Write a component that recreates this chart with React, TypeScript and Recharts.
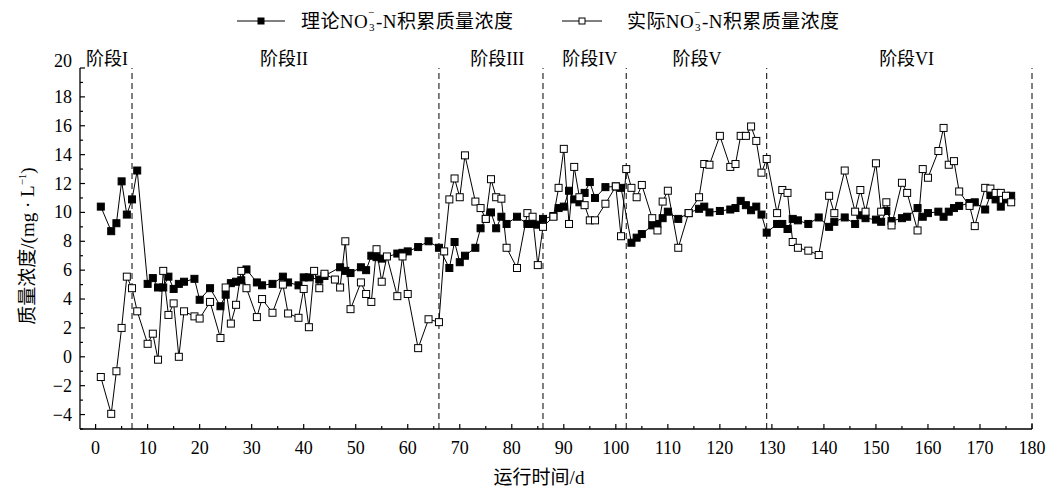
import React from "react";
import { LineChart, Line, XAxis, YAxis, ReferenceLine, ReferenceDot } from "recharts";

const FONT = "'Liberation Serif', 'Noto Sans CJK SC', serif";

// theoretical NO3--N accumulation (filled squares): [day, mg/L]
const theory: [number, number][] = [
  [1, 10.4], [3, 8.7], [4, 9.25], [5, 12.15], [6, 9.85], [7, 10.9], [8, 12.9],
  [10, 5.05], [11, 5.45], [12, 4.8], [13, 4.8], [14, 5.55], [15, 4.7], [16, 5.05],
  [17, 5.2], [19, 5.4], [20, 3.95], [22, 4.75], [24, 3.5], [25, 4.3], [26, 5.1],
  [27, 5.2], [28, 5.3], [29, 6.05], [31, 5.15], [32, 4.95], [34, 5.05], [36, 5.55],
  [37, 5.15], [39, 4.95], [40, 5.5], [41, 5.5], [43, 5.35], [44, 5.6], [47, 6.2],
  [48, 5.95], [49, 5.8], [51, 6.2], [52, 6.0], [53, 7.0], [54, 6.9], [55, 6.8],
  [58, 7.15], [59, 7.2], [60, 7.3], [62, 7.6], [64, 8.0], [66, 7.55], [68, 6.15],
  [69, 7.95], [70, 6.55], [71, 7.0], [73, 7.55], [74, 8.9], [75, 9.55], [76, 10.0],
  [77, 8.9], [78, 9.7], [79, 9.2], [81, 9.7], [83, 9.2], [84, 9.2], [85, 9.15],
  [86, 9.55], [88, 9.75], [89, 10.3], [90, 10.4], [91, 11.5], [92, 10.9], [93, 10.7],
  [94, 11.35], [95, 12.1], [96, 11.0], [98, 11.75], [100, 11.8], [101, 11.7],
  [103, 7.9], [104, 8.25], [105, 8.5], [107, 9.1], [108, 9.2], [109, 9.6], [110, 10.05],
  [112, 9.55], [114, 9.95], [116, 10.25], [117, 10.4], [118, 10.0], [120, 10.1],
  [122, 10.2], [123, 10.3], [124, 10.8], [125, 10.5], [126, 10.15], [127, 10.4],
  [128, 9.85], [129, 8.6], [131, 9.2], [132, 9.2], [133, 8.85], [134, 9.55], [135, 9.45],
  [137, 9.2], [139, 9.65], [141, 9.0], [142, 9.35], [144, 9.65], [146, 9.2], [147, 9.8],
  [148, 9.6], [150, 9.5], [151, 9.35], [152, 10.1], [153, 9.4], [155, 9.6], [156, 9.7],
  [158, 10.3], [159, 9.7], [160, 9.95], [162, 10.05], [163, 9.7], [164, 10.05],
  [165, 10.3], [166, 10.45], [168, 10.65], [169, 10.7], [171, 10.2], [172, 11.2],
  [173, 10.9], [174, 10.4], [175, 10.9], [176, 11.15],
];

// measured NO3--N accumulation (open squares): [day, mg/L]
const actual: [number, number][] = [
  [1, -1.4], [3, -3.95], [4, -1.0], [5, 2.0], [6, 5.55], [7, 4.75], [8, 3.15],
  [10, 0.9], [11, 1.6], [12, -0.2], [13, 5.95], [14, 2.9], [15, 3.7], [16, 0.0],
  [17, 3.15], [19, 2.8], [20, 2.65], [22, 3.8], [24, 1.3], [25, 4.8], [26, 2.3],
  [27, 3.6], [28, 5.95], [29, 4.75], [31, 2.75], [32, 4.0], [34, 3.05], [36, 5.0],
  [37, 3.0], [39, 2.7], [40, 4.7], [41, 2.05], [42, 5.95], [43, 4.75], [44, 5.75],
  [46, 5.35], [47, 4.8], [48, 8.0], [49, 3.3], [51, 5.15], [52, 4.35], [53, 3.8],
  [54, 7.45], [55, 5.2], [56, 6.95], [58, 4.2], [59, 6.95], [60, 4.35], [62, 0.6],
  [64, 2.6], [66, 2.4], [67, 7.3], [68, 10.9], [69, 12.35], [70, 11.05], [71, 13.95],
  [73, 10.75], [74, 10.3], [75, 9.55], [76, 12.3], [77, 11.05], [78, 10.95], [79, 7.55],
  [81, 6.15], [83, 9.95], [84, 9.7], [85, 6.35], [86, 9.0], [88, 9.7], [89, 11.7],
  [90, 14.4], [91, 9.2], [92, 13.15], [93, 11.05], [94, 10.5], [95, 9.45], [96, 9.45],
  [98, 10.6], [100, 11.8], [101, 8.35], [102, 13.0], [103, 11.7], [104, 11.05],
  [105, 11.9], [107, 9.6], [108, 8.75], [109, 10.75], [110, 11.5], [112, 7.55],
  [114, 9.95], [116, 11.05], [117, 13.35], [118, 13.3], [120, 15.3], [122, 13.15],
  [123, 13.35], [124, 15.3], [125, 15.3], [126, 15.95], [127, 14.95], [128, 12.75],
  [129, 13.7], [131, 9.95], [132, 11.55], [133, 11.35], [134, 7.95], [135, 7.55],
  [137, 7.35], [139, 7.05], [141, 11.15], [142, 9.95], [144, 12.9], [146, 10.05],
  [147, 11.55], [148, 10.05], [150, 13.4], [151, 10.05], [152, 10.7], [153, 9.1],
  [155, 12.05], [156, 11.35], [158, 8.75], [159, 13.0], [160, 12.4], [162, 14.25],
  [163, 15.85], [164, 13.3], [165, 13.55], [166, 11.45], [168, 10.45], [169, 9.05],
  [171, 11.7], [172, 11.65], [173, 11.35], [174, 11.35], [175, 11.15], [176, 10.7],
];

const stageBounds = [7, 66, 86, 102, 129, 180];
const stageNames = ["阶段I", "阶段II", "阶段III", "阶段IV", "阶段V", "阶段VI"];
const stageCenters = [2.2, 36.2, 77.2, 95, 115.6, 155.9];

const xTicks = Array.from({ length: 37 }, (_, i) => i * 5);
const yTicks = Array.from({ length: 26 }, (_, i) => i - 5);

const theoryData = theory.map(([day, v]) => ({ day, v }));
const actualData = actual.map(([day, v]) => ({ day, v }));

const XTick = (props: any) => {
  const { x, y, payload } = props;
  const v = payload.value;
  const major = v % 10 === 0;
  return (
    <g>
      <line x1={x} x2={x} y1={y} y2={y - (major ? 5 : 3)} stroke="#000" strokeWidth={1.2} />
      {major && (
        <text x={x} y={y + 25} textAnchor="middle" fontSize={18} fontFamily={FONT} fill="#000">
          {v}
        </text>
      )}
    </g>
  );
};

const YTick = (props: any) => {
  const { x, y, payload } = props;
  const v = payload.value;
  const major = v % 2 === 0;
  return (
    <g>
      <line x1={x} x2={x + (major ? 5 : 3)} y1={y} y2={y} stroke="#000" strokeWidth={1.2} />
      {major && (
        <text x={x - 8} y={y + 6 - (v === 20 ? 7 : 0)} textAnchor="end" fontSize={18} fontFamily={FONT} fill="#000">
          {v < 0 ? `−${-v}` : v}
        </text>
      )}
    </g>
  );
};

const square = (filled: boolean) => (props: any) => {
  const { cx, cy, index } = props;
  if (cx == null || cy == null) return <g key={index} />;
  return (
    <rect
      key={index}
      x={cx - 3.5}
      y={cy - 3.5}
      width={7}
      height={7}
      fill={filled ? "#000" : "#fff"}
      stroke="#000"
      strokeWidth={1}
    />
  );
};

const NO3 = () => (
  <>
    NO
    <span style={{ display: "inline-block", position: "relative", width: 8, height: "1em" }}>
      <span style={{ position: "absolute", left: 0, top: -2, fontSize: 11, lineHeight: 1 }}>−</span>
      <span style={{ position: "absolute", left: 1, top: 13, fontSize: 11, lineHeight: 1 }}>3</span>
    </span>
    -N
  </>
);

const legendText: React.CSSProperties = { letterSpacing: 0.4 };

export default function App() {
  return (
    <div
      style={{
        position: "absolute",
        left: 0,
        top: 0,
        width: 1053,
        height: 490,
        background: "#fff",
        fontFamily: FONT,
        color: "#000",
      }}
    >
      <LineChart width={1053} height={490} margin={{ top: 68, right: 21, bottom: 0, left: 0 }}>
        <XAxis
          type="number"
          dataKey="day"
          domain={[-3, 180]}
          ticks={xTicks}
          interval={0}
          tickSize={0}
          tickMargin={0}
          tickLine={false}
          tick={<XTick />}
          height={61}
          axisLine={{ stroke: "#000", strokeWidth: 1.3 }}
          allowDuplicatedCategory={false}
          label={{
            value: "运行时间/d",
            position: "insideBottom",
            offset: 6,
            dx: -17,
            fontSize: 19,
            fontFamily: FONT,
            fill: "#000",
          }}
        />
        <YAxis
          type="number"
          domain={[-5, 20]}
          ticks={yTicks}
          interval={0}
          width={80}
          tickSize={0}
          tickMargin={0}
          tickLine={false}
          tick={<YTick />}
          axisLine={{ stroke: "#000", strokeWidth: 1.3 }}
        />
        {stageBounds.map((b) => (
          <ReferenceLine key={b} x={b} stroke="#000" strokeWidth={1} strokeDasharray="6 4" />
        ))}
        {stageNames.map((name, i) => (
          <ReferenceDot
            key={name}
            x={stageCenters[i]}
            y={20}
            r={0}
            fill="none"
            stroke="none"
            ifOverflow="visible"
            label={{ value: name, position: "top", offset: 3, fontSize: 18, fontFamily: FONT, fill: "#000" }}
          />
        ))}
        <Line
          data={theoryData}
          dataKey="v"
          stroke="#000"
          strokeWidth={1}
          dot={square(true)}
          activeDot={false}
          isAnimationActive={false}
        />
        <Line
          data={actualData}
          dataKey="v"
          stroke="#000"
          strokeWidth={1}
          dot={square(false)}
          activeDot={false}
          isAnimationActive={false}
        />
      </LineChart>

      <div
        style={{
          position: "absolute",
          left: 27,
          top: 246,
          transform: "translate(-50%, -50%) rotate(-90deg)",
          whiteSpace: "nowrap",
          fontSize: 19,
          lineHeight: 1,
        }}
      >
        质量浓度/(mg · L<sup style={{ fontSize: 11 }}>−1</sup>)
      </div>

      <div style={{ position: "absolute", left: 237, top: 9, display: "flex", alignItems: "center", fontSize: 19, lineHeight: "22px", whiteSpace: "nowrap" }}>
        <svg width={48} height={10} style={{ marginRight: 16 }}>
          <line x1={0} x2={48} y1={5} y2={5} stroke="#000" strokeWidth={1} />
          <rect x={21} y={2} width={6} height={6} fill="#000" stroke="#000" />
        </svg>
        <span style={legendText}>
          理论<NO3 />积累质量浓度
        </span>
      </div>
      <div style={{ position: "absolute", left: 562, top: 9, display: "flex", alignItems: "center", fontSize: 19, lineHeight: "22px", whiteSpace: "nowrap" }}>
        <svg width={40} height={10} style={{ marginRight: 25 }}>
          <line x1={0} x2={40} y1={5} y2={5} stroke="#000" strokeWidth={1} />
          <rect x={17} y={2} width={6} height={6} fill="#fff" stroke="#000" />
        </svg>
        <span style={legendText}>
          实际<NO3 />积累质量浓度
        </span>
      </div>
    </div>
  );
}
